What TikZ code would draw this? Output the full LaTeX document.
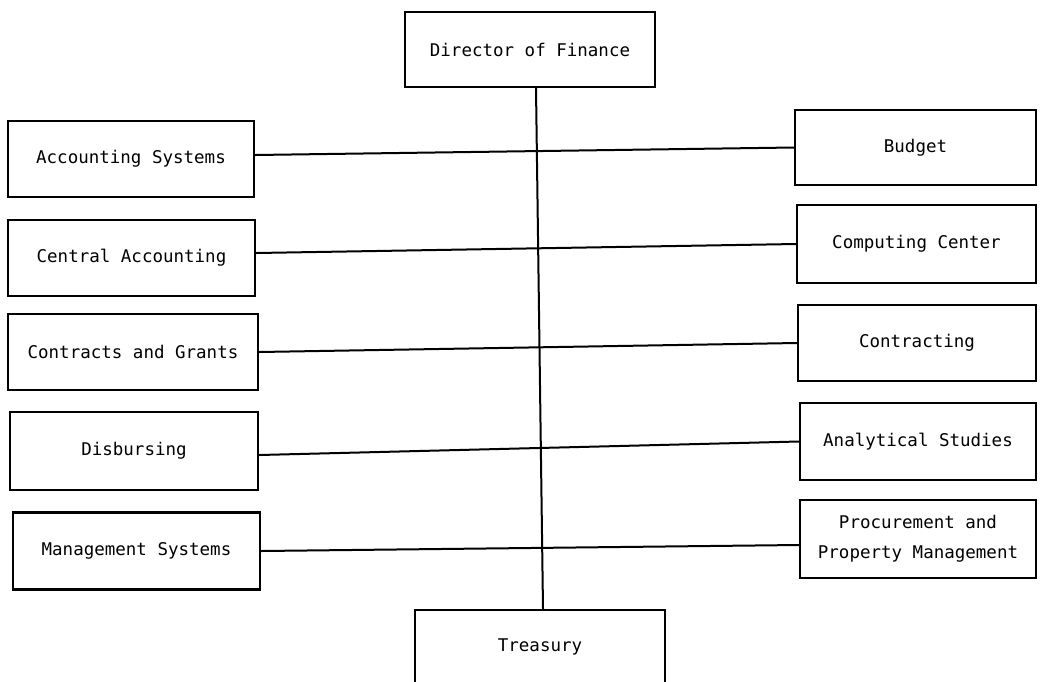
\documentclass[tikz,border=0pt]{standalone}
\usepackage{fontspec}
\setmonofont{DejaVu Sans Mono}
\begin{document}
\begin{tikzpicture}[x=1pt,y=-1pt,
  unit/.style={draw,line width=2.4pt,inner sep=0pt,align=center,
    font=\ttfamily\fontsize{17.5}{30}\selectfont},
  link/.style={line width=2pt}]
\useasboundingbox (0,0) rectangle (1041,681);
% head and bottom of the chain
\node[unit,minimum width=250,minimum height=75] (dir) at (530,49.5) {Director of Finance};
\node[unit,minimum width=250,minimum height=74] (tre) at (540,647) {Treasury};
% left-hand units
\node[unit,minimum width=246,minimum height=76] (l1) at (131,159) {Accounting Systems};
\node[unit,minimum width=247,minimum height=76] (l2) at (131.5,258) {Central Accounting};
\node[unit,minimum width=250,minimum height=76] (l3) at (133,352) {Contracts and Grants};
\node[unit,minimum width=248,minimum height=78] (l4) at (134,451) {Disbursing};
\node[unit,minimum width=247,minimum height=77] (l5) at (136.5,551) {Management Systems};
% right-hand units
\node[unit,minimum width=241,minimum height=75] (r1) at (915.5,147.5) {Budget};
\node[unit,minimum width=239,minimum height=78] (r2) at (916.5,244) {Computing Center};
\node[unit,minimum width=238,minimum height=76] (r3) at (917,343) {Contracting};
\node[unit,minimum width=236,minimum height=77] (r4) at (918,441.5) {Analytical Studies};
\node[unit,minimum width=236,minimum height=78] (r5) at (918,539) {Procurement and\\Property Management};
% trunk line
\draw[link] ([xshift=6pt]dir.south) -- ([xshift=3pt]tre.north);
% cross links
\draw[link] ([yshift=4pt]l1.east) -- (r1.west);
\draw[link] ([yshift=5pt]l2.east) -- (r2.west);
\draw[link] (l3.east) -- (r3.west);
\draw[link] ([yshift=-4pt]l4.east) -- (r4.west);
\draw[link] (l5.east) -- ([yshift=-6pt]r5.west);
\end{tikzpicture}
\end{document}
